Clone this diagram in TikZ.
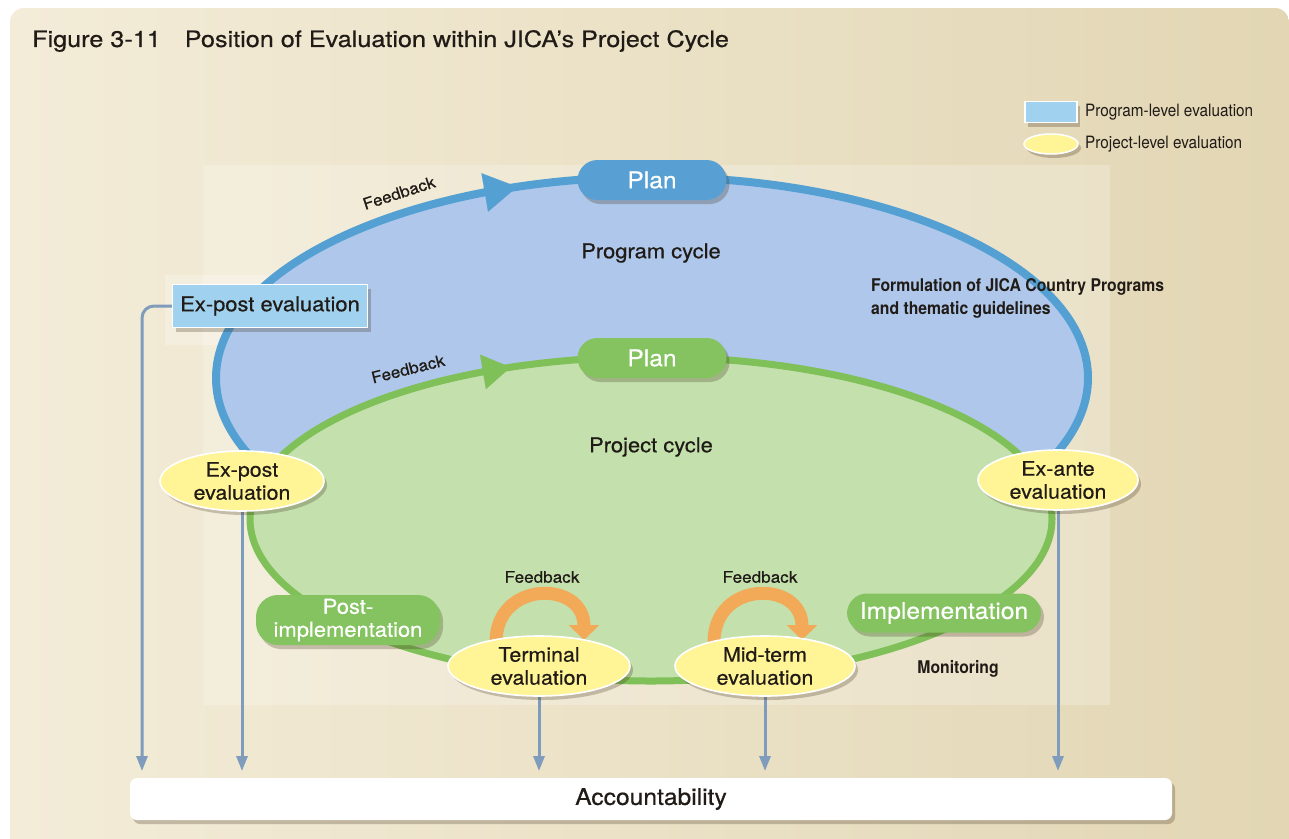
\documentclass[tikz,border=0pt]{standalone}
\usepackage{fontspec}
\setmainfont{TeX Gyre Heros}
\newfontfamily\medfont{TeX Gyre Heros}[FakeBold=0.5,FakeStretch=1.07]
\newfontfamily\titlefont{TeX Gyre Heros}[FakeBold=0.5,FakeStretch=1.12]
\newfontfamily\condfont{TeX Gyre Heros}[FakeStretch=0.9]
\usetikzlibrary{arrows.meta,shadows,shapes.geometric,calc}
\pgfdeclarelayer{bottom}
\pgfdeclarelayer{back}
\pgfsetlayers{bottom,back,main}

\definecolor{bgL}{RGB}{243,236,216}
\definecolor{bgR}{RGB}{226,214,180}
\definecolor{progfill}{RGB}{174,199,234}
\definecolor{progline}{RGB}{84,160,211}
\definecolor{projfill}{RGB}{196,225,173}
\definecolor{projline}{RGB}{127,192,88}
\definecolor{pillgreen}{RGB}{132,195,96}
\definecolor{pillblue}{RGB}{88,160,212}
\definecolor{boxblue}{RGB}{160,210,240}
\definecolor{evyellow}{RGB}{255,244,150}
\definecolor{connc}{RGB}{128,156,188}
\definecolor{fborange}{RGB}{242,170,88}
\definecolor{ink}{RGB}{32,27,22}

\begin{document}
\begin{tikzpicture}[x=1pt,y=-1pt,
  softshadow/.style={drop shadow={opacity=0.25,shadow xshift=3pt,shadow yshift=-4pt,fill=black!70!brown}},
  pill/.style={rounded corners=20pt,minimum height=40pt,inner sep=0pt,text=white,align=center,softshadow},
  evalell/.style={ellipse,fill=evyellow,draw=white,line width=1.6pt,inner sep=0pt,align=center,text=ink,
    font=\medfont\fontsize{20}{23}\selectfont,softshadow},
  connline/.style={draw=connc,line width=3pt,-{Triangle[width=11pt,length=15pt]}},
  fbarrow/.style={draw=fborange,line width=13pt,-{Triangle[width=30pt,length=15pt]}},
  lbl/.style={text=ink,inner sep=0pt},
]
\useasboundingbox (0,0) rectangle (1289,838);

\begin{pgfonlayer}{bottom}
  % page and panel
  \fill[white] (0,0) rectangle (1289,838);
  \shade[left color=bgL,right color=bgR,rounded corners=14pt] (10,8) rectangle (1289,880);
  \fill[white,opacity=0.22] (203,165) rectangle (1110,705);
  \fill[white,opacity=0.25] (165,275) rectangle (390,345);
  % program cycle
  \draw[progline,line width=8pt,fill=progfill] (652,378) ellipse [x radius=436,y radius=201];
  \draw[progline,line width=0.1pt,-{Triangle[width=39pt,length=33pt]}]
    ({652+436*cos(113)},{378-201*sin(113)}) -- ({652+436*cos(108)},{378-201*sin(108)});
  % project cycle
  \draw[projline,line width=7pt,fill=projfill] (651,519) ellipse [x radius=401,y radius=162];
  \draw[projline,line width=0.1pt,-{Triangle[width=35pt,length=28pt]}]
    ({651+401*cos(115)},{519-162*sin(115)}) -- ({651+401*cos(110.5)},{519-162*sin(110.5)});
\end{pgfonlayer}

% labels inside the cycles
\node[lbl,font=\medfont\fontsize{16}{18}\selectfont,rotate=18] (fbprog) at (399,193) {Feedback};
\node[lbl,font=\medfont\fontsize{16}{18}\selectfont,rotate=14] (fbproj) at (408,369) {Feedback};
\node[lbl,font=\medfont\fontsize{20.5}{23}\selectfont] (progcycle) at (651,253) {Program cycle};
\node[lbl,font=\medfont\fontsize{20.5}{23}\selectfont] (projcycle) at (651,447) {Project cycle};
\node[lbl,anchor=west,align=left,font=\condfont\bfseries\fontsize{17.5}{23}\selectfont] (formul) at (871,298)
  {Formulation of JICA Country Programs\\and thematic guidelines};
\node[lbl,font=\condfont\bfseries\fontsize{17.5}{20}\selectfont] (monit) at (958,669) {Monitoring};

% title
\node[lbl,anchor=west,font=\titlefont\fontsize{22.5}{26}\selectfont] (title) at (32,41)
  {Figure 3-11\hspace{24pt}Position of Evaluation within JICA’s Project Cycle};

% legend
\node[fill=boxblue,draw=white,line width=1.5pt,minimum width=52pt,minimum height=21pt,inner sep=0pt,softshadow] (legprog) at (1051,112) {};
\node[ellipse,fill=evyellow,draw=white,line width=1.5pt,minimum width=54pt,minimum height=20pt,inner sep=0pt,softshadow] (legproj) at (1051,144) {};
\node[lbl,anchor=west,font=\condfont\fontsize{17}{20}\selectfont] (legprogt) at (1085,112) {Program-level evaluation};
\node[lbl,anchor=west,font=\condfont\fontsize{17}{20}\selectfont] (legprojt) at (1085,144) {Project-level evaluation};

% stage pills
\node[pill,fill=pillblue,minimum width=149pt,font=\medfont\fontsize{23}{26}\selectfont] (progplan) at (652,180) {Plan};
\node[pill,fill=pillgreen,minimum width=149pt,font=\medfont\fontsize{23}{26}\selectfont] (projplan) at (652,358) {Plan};
\node[pill,fill=pillgreen,minimum width=184pt,minimum height=50pt,rounded corners=22pt,
  font=\medfont\fontsize{20.5}{23}\selectfont] (postimpl) at (348,620) {Post-\\implementation};
\node[pill,fill=pillgreen,minimum width=194pt,minimum height=39pt,
  font=\medfont\fontsize{23}{26}\selectfont] (impl) at (944,613) {Implementation};

% program-level evaluation
\node[fill=boxblue,draw=white,line width=1.5pt,minimum width=195pt,minimum height=43pt,inner sep=0pt,text=ink,
  font=\medfont\fontsize{20.5}{23}\selectfont,softshadow] (progxp) at (270,306) {Ex-post evaluation};

% project-level evaluations
\node[evalell,minimum width=164pt,minimum height=60pt] (expost) at (242,481) {Ex-post\\evaluation};
\node[evalell,minimum width=160pt,minimum height=60pt] (exante) at (1058,480) {Ex-ante\\evaluation};
\node[evalell,minimum width=182pt,minimum height=60pt] (terminal) at (539,666) {Terminal\\evaluation};
\node[evalell,minimum width=180pt,minimum height=60pt] (midterm) at (765,666) {Mid-term\\evaluation};

% accountability
\node[fill=white,rounded corners=7pt,minimum width=1042pt,minimum height=42pt,inner sep=0pt,text=ink,
  font=\medfont\fontsize{23}{26}\selectfont,softshadow] (acc) at (651,799) {Accountability};

% arrow ends above the accountability bar
\coordinate (t1) at (142,771);
\coordinate (t2) at (242,771);
\coordinate (t3) at (539,771);
\coordinate (t4) at (765,771);
\coordinate (t5) at (1058,771);

% feedback loops around the mid-cycle evaluations
\coordinate (fa1) at (496,642);
\coordinate (fa2) at (584,640);
\coordinate (fb1) at (714,642);
\coordinate (fb2) at (802,640);
\node[lbl,font=\medfont\fontsize{16}{18}\selectfont] (fbterm) at (542,577) {Feedback};
\node[lbl,font=\medfont\fontsize{16}{18}\selectfont] (fbmid) at (760,577) {Feedback};

\begin{pgfonlayer}{back}
  \draw[connline,rounded corners=12pt] (progxp.west) -| (t1);
  \draw[connline] (expost.south) -- (t2);
  \draw[connline] (terminal.south) -- (t3);
  \draw[connline] (midterm.south) -- (t4);
  \draw[connline] (exante.south) -- (t5);
  \draw[fbarrow] (fa1) .. controls ($(fa1)+(0,-62)$) and ($(fa2)+(0,-60)$) .. (fa2);
  \draw[fbarrow] (fb1) .. controls ($(fb1)+(0,-62)$) and ($(fb2)+(0,-60)$) .. (fb2);
\end{pgfonlayer}
\end{tikzpicture}
\end{document}
